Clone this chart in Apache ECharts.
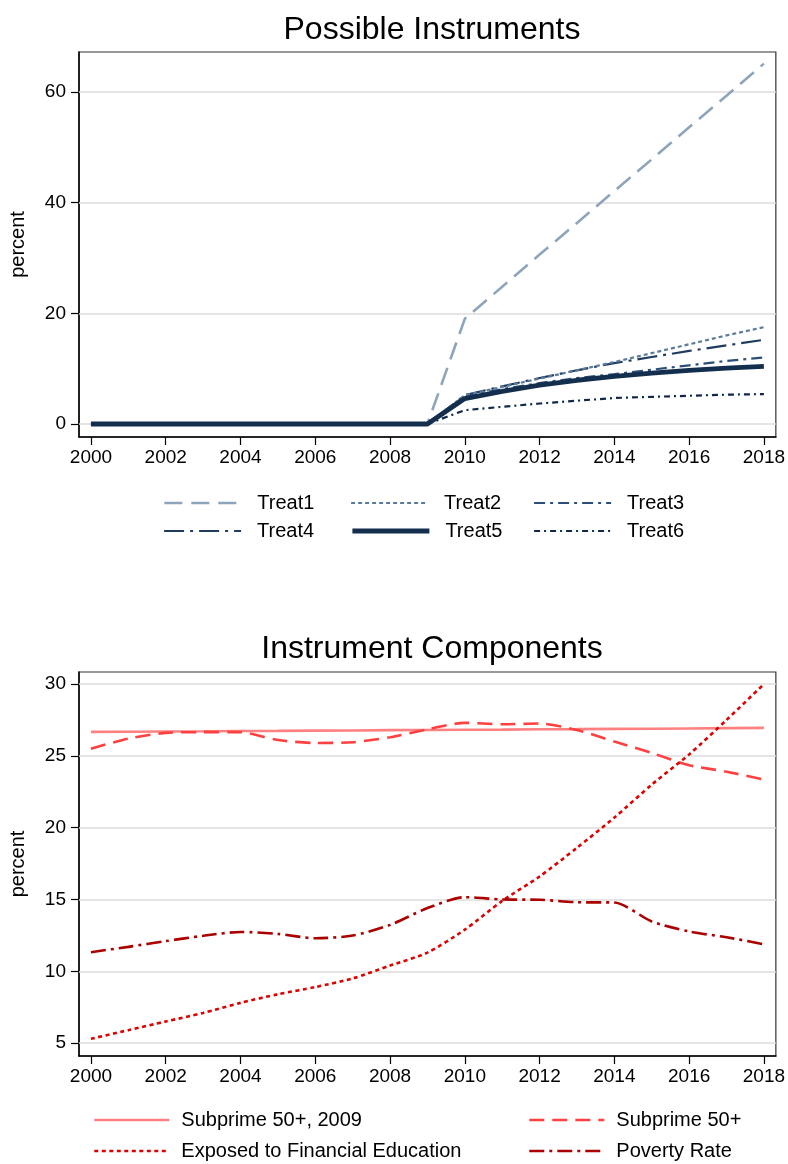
<!DOCTYPE html>
<html><head><meta charset="utf-8">
<script src="https://cdn.jsdelivr.net/npm/echarts@6/dist/echarts.min.js"></script>
<style>html,body{margin:0;padding:0;background:#fff}#c{width:788px;height:1164px}</style>
</head><body><div id="c"></div>
<script>
const years = [2000,2001,2002,2003,2004,2005,2006,2007,2008,2009,2010,2011,2012,2013,2014,2015,2016,2017,2018];
const treat1 = [0,0,0,0,0,0,0,0,0,0,19.0,24.8,30.6,36.3,42.1,47.8,53.6,59.3,65.1];
const treat2 = [0,0,0,0,0,0,0,0,0,0,5.2,6.7,8.2,9.7,11.2,12.8,14.4,16.0,17.5];
const treat3 = [0,0,0,0,0,0,0,0,0,0,5.0,6.3,7.4,8.3,9.0,9.8,10.6,11.4,12.0];
const treat4 = [0,0,0,0,0,0,0,0,0,0,5.2,6.8,8.3,9.7,11.0,12.1,13.2,14.2,15.2];
const treat5 = [0,0,0,0,0,0,0,0,0,0,4.6,5.9,7.0,7.9,8.6,9.2,9.7,10.1,10.4];
const treat6 = [0,0,0,0,0,0,0,0,0,0,2.5,3.1,3.7,4.2,4.7,4.9,5.1,5.3,5.4];
const subprime2009 = [26.67,26.68,26.7,26.71,26.73,26.74,26.76,26.77,26.79,26.8,26.82,26.83,26.85,26.86,26.88,26.89,26.91,26.93,26.95];
const subprime = [25.5,26.2,26.6,26.65,26.65,26.1,25.9,25.95,26.3,26.85,27.3,27.2,27.25,26.8,26.0,25.2,24.35,23.9,23.35];
const finEdu = [5.3,5.9,6.5,7.1,7.8,8.4,8.9,9.5,10.4,11.3,12.9,14.9,16.6,18.6,20.7,23.0,25.1,27.5,30.0];
const poverty = [11.33,11.7,12.1,12.47,12.74,12.6,12.3,12.49,13.23,14.4,15.16,15.0,14.98,14.81,14.79,13.47,12.77,12.37,11.88];
const xTicks = [2000,2002,2004,2006,2008,2010,2012,2014,2016,2018];
const yTicksTop = [0,20,40,60];
const yTicksBottom = [5,10,15,20,25,30];
const namesTop = ['Treat1','Treat2','Treat3','Treat4','Treat5','Treat6'];
const namesBottom = ['Subprime 50+, 2009','Subprime 50+','Exposed to Financial Education','Poverty Rate'];

const FONT = 'Liberation Sans, Arial, Helvetica, sans-serif';
const pairs = arr => years.map((y,i)=>[y,arr[i]]);

function xAxis(gi){
  return {
    type:'value', gridIndex:gi, min:1999.68, max:2018.32,
    axisLine:{show:true,onZero:false,lineStyle:{color:'#000',width:1.5}},
    axisTick:{show:true,inside:false,length:8,customValues:xTicks,lineStyle:{color:'#000',width:1.2}},
    axisLabel:{customValues:xTicks,formatter:v=>String(v),color:'#000',fontSize:19,fontFamily:FONT,margin:11},
    splitLine:{show:false}
  };
}
function yAxis(gi,min,max,ticks){
  return {
    type:'value', gridIndex:gi, min:min, max:max,
    name:'percent', nameLocation:'middle', nameGap:51, nameRotate:90,
    nameTextStyle:{color:'#000',fontSize:20,fontFamily:FONT},
    axisLine:{show:true,onZero:false,lineStyle:{color:'#000',width:1.5}},
    axisTick:{show:true,inside:false,length:8,customValues:ticks,lineStyle:{color:'#000',width:1.2}},
    axisLabel:{customValues:ticks,formatter:v=>String(v),color:'#000',fontSize:19,fontFamily:FONT,margin:13},
    splitLine:{show:false}
  };
}
function gridLines(ticks){
  return {silent:true,symbol:'none',label:{show:false},animation:false,z:1,
    lineStyle:{color:'#dcdcdc',width:1.5,type:'solid'},
    data:ticks.map(v=>({yAxis:v}))};
}

const topStyles = [
  {color:'#8ea4bb',width:2.6,type:[18,9]},
  {color:'#5c7b9c',width:2.2,type:[4,3]},
  {color:'#2c4f77',width:2.2,type:[11,5,3,5]},
  {color:'#1f3c60',width:2.2,type:[20,6,3,6]},
  {color:'#142e4e',width:4.8,type:'solid'},
  {color:'#11284a',width:2.2,type:[6,4,2,4]}
];
const topData = [treat1,treat2,treat3,treat4,treat5,treat6];
const botStyles = [
  {color:'#ff8080',width:2.6,type:'solid'},
  {color:'#ff4040',width:2.6,type:[15,8]},
  {color:'#dd0000',width:2.6,type:[4,3.5]},
  {color:'#aa0000',width:2.6,type:[15,5,3,5]}
];
const botData = [subprime2009,subprime,finEdu,poverty];

const series = [];
topData.forEach((d,i)=>{
  series.push({name:namesTop[i],type:'line',xAxisIndex:0,yAxisIndex:0,data:pairs(d),
    symbol:'none',showSymbol:false,lineStyle:topStyles[i],itemStyle:{color:topStyles[i].color},
    emphasis:{disabled:true},z:(i===4?20:10-i),
    markLine: i===0 ? gridLines(yTicksTop) : undefined});
});
botData.forEach((d,i)=>{
  series.push({name:namesBottom[i],type:'line',xAxisIndex:1,yAxisIndex:1,data:pairs(d),
    symbol:'none',showSymbol:false,smooth:i===0?false:0.25,lineStyle:botStyles[i],itemStyle:{color:botStyles[i].color},
    emphasis:{disabled:true},z:10,
    markLine: i===0 ? gridLines(yTicksBottom) : undefined});
});

const legPosTop = [[163,493],[350,493],[533,493],[163,521],[350,521],[533,521]];
const legPosBot = [[93,1110],[528,1110],[93,1141],[528,1141]];
const hiddenSym = {color:'rgba(0,0,0,0)',borderWidth:0,opacity:0};
const legends = [];
namesTop.forEach((n,i)=>legends.push({data:[n],left:legPosTop[i][0],top:legPosTop[i][1],padding:0,
  itemWidth:77,itemHeight:14,itemStyle:hiddenSym,
  lineStyle:{color:topStyles[i].color,width:topStyles[i].width,type:topStyles[i].type,opacity:1},
  textStyle:{color:'#000',fontSize:20,fontFamily:FONT,padding:[0,0,0,11]},selectedMode:false}));
namesBottom.forEach((n,i)=>legends.push({data:[n],left:legPosBot[i][0],top:legPosBot[i][1],padding:0,
  itemWidth:75,itemHeight:14,itemStyle:hiddenSym,
  lineStyle:{color:botStyles[i].color,width:botStyles[i].width,type:botStyles[i].type,opacity:1},
  textStyle:{color:'#000',fontSize:20,fontFamily:FONT,padding:[0,0,0,7]},selectedMode:false}));

const option = {
  animation:false,
  backgroundColor:'#fff',
  title:[
    {text:'Possible Instruments',left:427,top:9,textAlign:'center',textStyle:{color:'#000',fontSize:32,fontWeight:'normal',fontFamily:FONT}},
    {text:'Instrument Components',left:427,top:628,textAlign:'center',textStyle:{color:'#000',fontSize:32,fontWeight:'normal',fontFamily:FONT}}
  ],
  legend:legends,
  grid:[
    {left:78,right:11,top:52,height:385,show:true,borderColor:'#333',borderWidth:1.2,containLabel:false},
    {left:77,right:11,top:672,height:384,show:true,borderColor:'#333',borderWidth:1.2,containLabel:false}
  ],
  xAxis:[xAxis(0),xAxis(1)],
  yAxis:[yAxis(0,-2.35,67.2,yTicksTop),yAxis(1,4.1,30.84,yTicksBottom)],
  series:series
};
const chart = echarts.init(document.getElementById('c'),null,{renderer:'canvas'});
chart.setOption(option);
</script></body></html>
